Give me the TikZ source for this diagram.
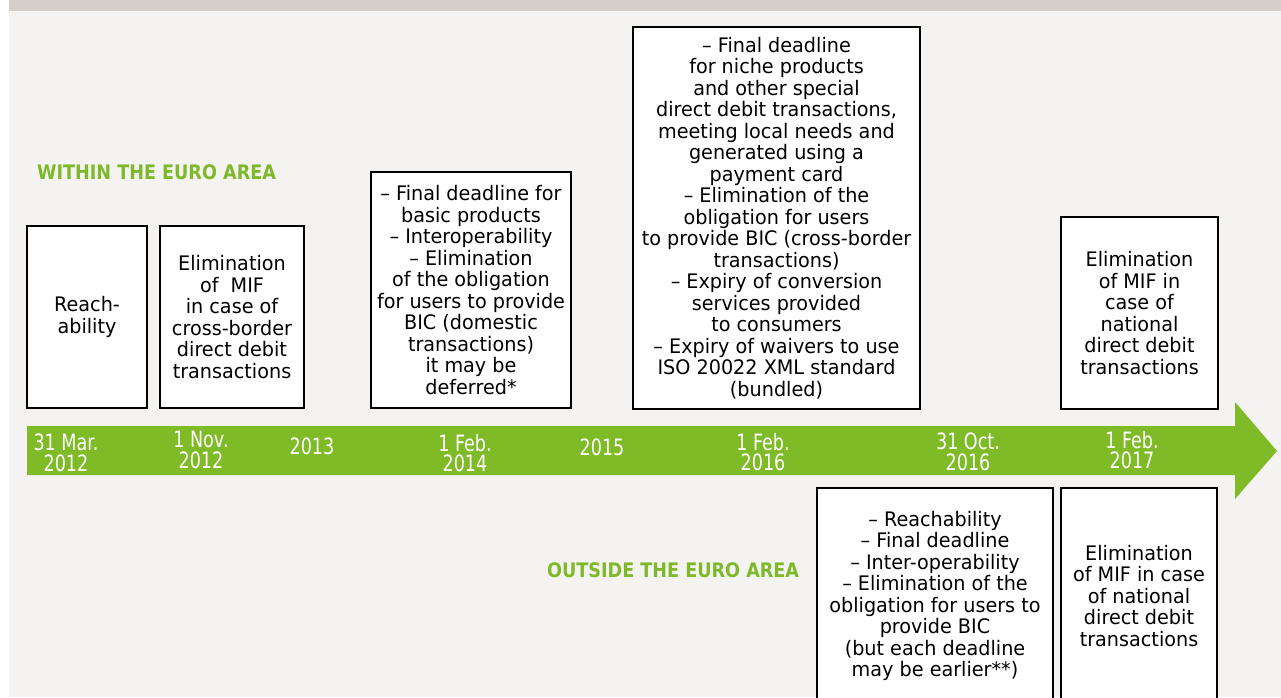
\documentclass[tikz,border=0pt]{standalone}
\usepackage{fontspec}
\newfontfamily\boxfont{DejaVu Sans}[FakeStretch=0.96]
\newfontfamily\datefont{DejaVu Sans}[FakeStretch=0.78]
\newfontfamily\headfont{DejaVu Sans}[FakeStretch=0.88]
\definecolor{bargreen}{HTML}{7FBA27}
\definecolor{headgreen}{HTML}{7DB928}
\definecolor{bgpaper}{HTML}{F4F3F1}
\definecolor{bandgray}{HTML}{D5CFCB}
\tikzset{
  box/.style={draw=black, line width=2.6pt, fill=white, align=center, inner sep=0pt,
    font=\boxfont\fontsize{20}{21.5}\selectfont},
  datelbl/.style={text=white, align=center, inner sep=0pt,
    font=\datefont\fontsize{22.5}{20.5}\selectfont},
  headlbl/.style={text=headgreen, anchor=west, inner sep=0pt,
    font=\headfont\bfseries\fontsize{20}{22}\selectfont}
}
\begin{document}
\begin{tikzpicture}[x=1pt,y=-1pt]
\useasboundingbox (0,0) rectangle (1281,697);
\clip (0,0) rectangle (1281,697);
\fill[white] (0,0) rectangle (1281,697);
\fill[bgpaper] (9,11) rectangle (1281,697);
\fill[bandgray] (9,0) rectangle (1281,11);
% timeline arrow
\fill[bargreen] (27,426) -- (1235,426) -- (1235,402) -- (1277,451) -- (1235,499) -- (1235,475) -- (27,475) -- cycle;
% headings
\node[headlbl] (within) at (37,172) {WITHIN THE EURO AREA};
\node[headlbl] (outside) at (547,570) {OUTSIDE THE EURO AREA};
% dates
\node[datelbl] (d1) at (66,453) {31 Mar.\\2012};
\node[datelbl] (d2) at (201,450) {1 Nov.\\2012};
\node[datelbl] (d3) at (312,446) {2013};
\node[datelbl] (d4) at (465,453) {1 Feb.\\2014};
\node[datelbl] (d5) at (602,447) {2015};
\node[datelbl] (d6) at (763,452) {1 Feb.\\2016};
\node[datelbl] (d7) at (968,452) {31 Oct.\\2016};
\node[datelbl] (d8) at (1132,450) {1 Feb.\\2017};
% boxes above
\node[box, minimum width=120, minimum height=182] (b1) at (87,317) {Reach-\\ability};
\node[box, minimum width=144, minimum height=182] (b2) at (232,317)
  {Elimination\\of~ MIF\\in case of\\cross-border\\direct debit\\transactions};
\node[box, minimum width=200, minimum height=236] (b3) at (471,290)
  {– Final deadline for\\basic products\\– Interoperability\\– Elimination\\of the obligation\\for users to provide\\BIC (domestic\\transactions)\\it may be\\deferred*};
\node[box, minimum width=287, minimum height=382] (b4) at (776.5,218)
  {– Final deadline\\for niche products\\and other special\\direct debit transactions,\\meeting local needs and\\generated using a\\payment card\\– Elimination of the\\obligation for users\\to provide BIC (cross-border\\transactions)\\– Expiry of conversion\\services provided\\to consumers\\– Expiry of waivers to use\\ISO 20022 XML standard\\(bundled)};
\node[box, minimum width=157, minimum height=192] (b5) at (1139.5,313)
  {Elimination\\of MIF in\\case of\\national\\direct debit\\transactions};
% boxes below
\node[box, minimum width=236, minimum height=216] (b6) at (935,596)
  {– Reachability\\– Final deadline\\– Inter-operability\\– Elimination of the\\obligation for users to\\provide BIC\\(but each deadline\\may be earlier**)};
\node[box, minimum width=156, minimum height=216] (b7) at (1139,596)
  {Elimination\\of MIF in case\\of national\\direct debit\\transactions};
\end{tikzpicture}
\end{document}
